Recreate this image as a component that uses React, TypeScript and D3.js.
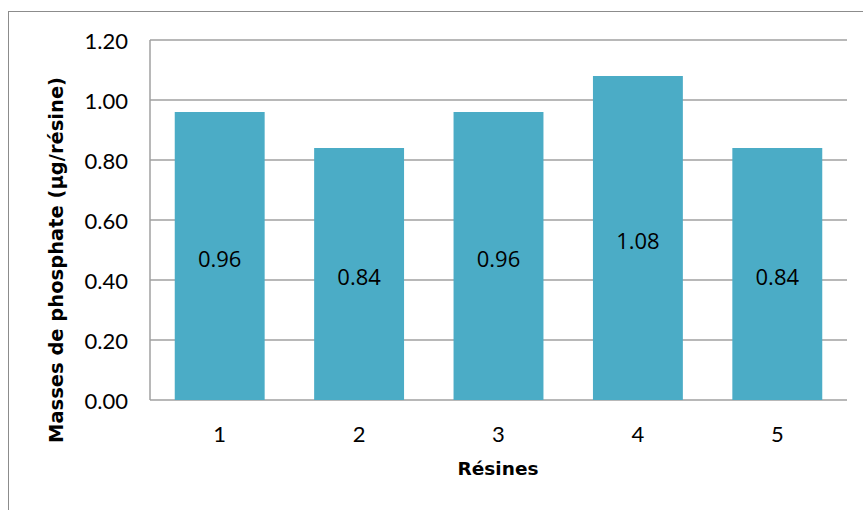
import React, { useRef, useEffect } from 'react';
import * as d3 from 'd3';

const categories = ['1', '2', '3', '4', '5'];
const values = [0.96, 0.84, 0.96, 1.08, 0.84];
const yTicks = [0, 0.2, 0.4, 0.6, 0.8, 1.0, 1.2];

const App: React.FC = () => {
  const ref = useRef<SVGSVGElement>(null);

  useEffect(() => {
    const svg = d3.select(ref.current);
    svg.selectAll('*').remove();

    const left = 150, right = 847, top = 40, bottom = 400;
    const font = '"Lato", "DejaVu Sans", sans-serif';
    const boldFont = '"DejaVu Sans", sans-serif';

    // chart frame (runs past the window on the right and bottom)
    svg.append('rect')
      .attr('x', 8.5).attr('y', 11.5)
      .attr('width', 870).attr('height', 520)
      .attr('fill', '#fff')
      .attr('stroke', '#8c8c8c').attr('stroke-width', 1);

    const x = d3.scaleBand().domain(categories).range([left, right]).paddingInner(0.355).paddingOuter(0.1775);
    const y = d3.scaleLinear().domain([0, 1.2]).range([bottom, top]);

    svg.append('g').selectAll('line').data(yTicks).join('line')
      .attr('x1', left).attr('x2', right)
      .attr('y1', d => y(d)).attr('y2', d => y(d))
      .attr('stroke', '#a0a0a0').attr('stroke-width', 1.5);

    svg.append('line')
      .attr('x1', left).attr('x2', left)
      .attr('y1', top).attr('y2', bottom)
      .attr('stroke', '#a0a0a0').attr('stroke-width', 1.5);

    svg.append('g').selectAll('rect').data(values).join('rect')
      .attr('x', (_, i) => x(categories[i])!)
      .attr('width', x.bandwidth())
      .attr('y', d => y(d))
      .attr('height', d => bottom - y(d))
      .attr('fill', '#4BACC6');

    svg.append('g').selectAll('text').data(values).join('text')
      .attr('x', (_, i) => x(categories[i])! + x.bandwidth() / 2)
      .attr('y', d => (y(d) + bottom) / 2 + 2)
      .attr('text-anchor', 'middle')
      .attr('dominant-baseline', 'central')
      .attr('font-family', '"Open Sans", "Liberation Sans", sans-serif')
      .attr('font-size', 22)
      .attr('fill', '#000')
      .text(d => d.toFixed(2));

    svg.append('g').selectAll('text').data(yTicks).join('text')
      .attr('x', 128)
      .attr('y', d => y(d))
      .attr('text-anchor', 'end')
      .attr('dominant-baseline', 'central')
      .attr('font-family', font)
      .attr('font-size', 22)
      .text(d => d.toFixed(2));

    svg.append('g').selectAll('text').data(categories).join('text')
      .attr('x', d => x(d)! + x.bandwidth() / 2)
      .attr('y', 433)
      .attr('text-anchor', 'middle')
      .attr('dominant-baseline', 'central')
      .attr('font-family', font)
      .attr('font-size', 22)
      .text(d => d);

    svg.append('text')
      .attr('x', 498)
      .attr('y', 468)
      .attr('text-anchor', 'middle')
      .attr('dominant-baseline', 'central')
      .attr('font-family', boldFont)
      .attr('font-weight', 'bold')
      .attr('font-size', 18.5)
      .text('Résines');

    svg.append('text')
      .attr('transform', `translate(56,${(top + bottom) / 2 + 40}) rotate(-90)`)
      .attr('text-anchor', 'middle')
      .attr('dominant-baseline', 'central')
      .attr('font-family', boldFont)
      .attr('font-weight', 'bold')
      .attr('font-size', 19.5)
      .text('Masses de phosphate (µg/résine)');
  }, []);

  return <svg ref={ref} width={863} height={510} style={{ position: 'absolute', left: 0, top: 0 }} />;
};

export default App;
